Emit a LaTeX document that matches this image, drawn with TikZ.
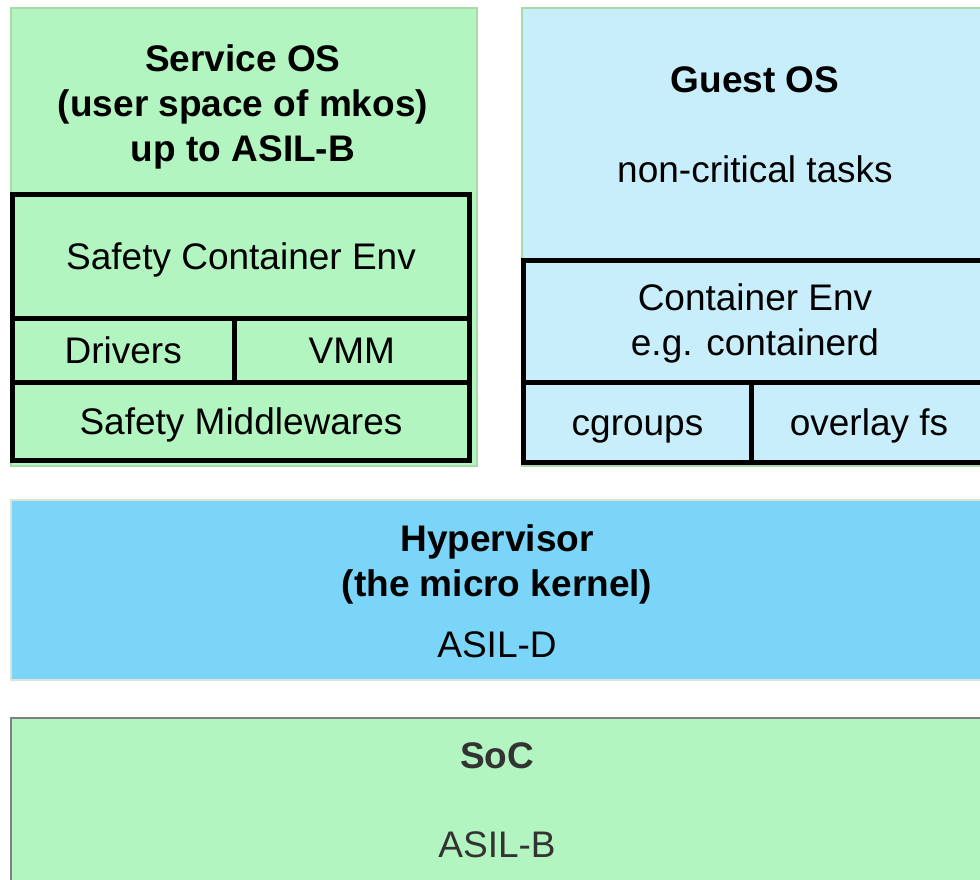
\documentclass[tikz,border=0pt]{standalone}
\usepackage{fontspec}
\setmainfont{Liberation Sans}
\usepackage{tikz}
\usetikzlibrary{positioning}
\usepackage{xcolor}

\definecolor{safegreen}{HTML}{B3F5C0}
\definecolor{guestblue}{HTML}{C8EEFB}
\definecolor{hypblue}{HTML}{7AD5F8}
\definecolor{paleedge}{HTML}{A9D9A9}
\definecolor{socedge}{HTML}{7F7F7F}
\definecolor{soctext}{HTML}{333333}
\newcommand\boxfont{\fontsize{37}{45}\selectfont}

\begin{document}
\begin{tikzpicture}[
        x=1pt, y=-1pt,
        outerbox/.style={rectangle, draw=paleedge, line width=1.5pt, anchor=north west, inner sep=0pt},
        layer/.style={rectangle, draw, line width=5pt, outer sep=0pt, inner sep=0pt, align=center, font=\boxfont},
        oneline/.style={text height=34pt, text depth=8pt},
        heading/.style={align=center, font=\boxfont}
    ]
        \useasboundingbox (0,0) rectangle (980,879);
        \clip (0,0) rectangle (980,879);

        % Service OS
        \node[outerbox, fill=safegreen, minimum width=466pt, minimum height=458pt] (serviceos) at (10,7) {};
        \node[heading] (servicetitle) at (243,107) {\textbf{Service OS}\\\textbf{(user space of mkos)}\\\textbf{up to ASIL-B}};

        \node[layer, oneline, fill=safegreen, minimum width=457pt, minimum height=124pt, anchor=north west] (safetyenv) at (12.5,194.5) {Safety Container Env};
        \node[layer, oneline, fill=safegreen, minimum width=221.5pt, minimum height=63.5pt, below right=0pt and 0pt of safetyenv.south west] (drivers) {Drivers};
        \node[layer, oneline, fill=safegreen, minimum width=235.5pt, minimum height=63.5pt, right=0pt of drivers] (vmm) {VMM};
        \node[layer, oneline, fill=safegreen, minimum width=457pt, minimum height=78.5pt, below right=0pt and 0pt of drivers.south west] (middleware) {Safety Middlewares};

        % Guest OS
        \node[outerbox, fill=guestblue, minimum width=480pt, minimum height=458pt] (guestos) at (521,7) {};
        \node[heading] (guesttitle) at (755,125) {\textbf{Guest OS}\\[45pt]non-critical tasks};

        \node[layer, fill=guestblue, minimum width=463pt, minimum height=122pt, anchor=north west] (containerenv) at (523.5,260.5) {\rule{0pt}{30pt}Container Env\\e.g. containerd};
        \node[layer, oneline, fill=guestblue, minimum width=228pt, minimum height=80pt, below right=0pt and 0pt of containerenv.south west] (cgroups) {cgroups};
        \node[layer, oneline, fill=guestblue, minimum width=235pt, minimum height=80pt, right=0pt of cgroups] (overlayfs) {overlay fs};

        % Hypervisor
        \node[outerbox, draw=paleedge!70!gray!40, fill=hypblue, minimum width=1000pt, minimum height=180pt] (hypervisor) at (10,499) {};
        \node[heading] (hyptext) at (497,591) {\textbf{Hypervisor}\\\textbf{(the micro kernel)}\\[16pt]ASIL-D};

        % SoC
        \node[outerbox, draw=socedge, fill=safegreen, minimum width=1000pt, minimum height=200pt] (soc) at (10,717) {};
        \node[heading, text=soctext] (soctext) at (497,800) {\textbf{SoC}\\[44pt]ASIL-B};
\end{tikzpicture}
\end{document}
